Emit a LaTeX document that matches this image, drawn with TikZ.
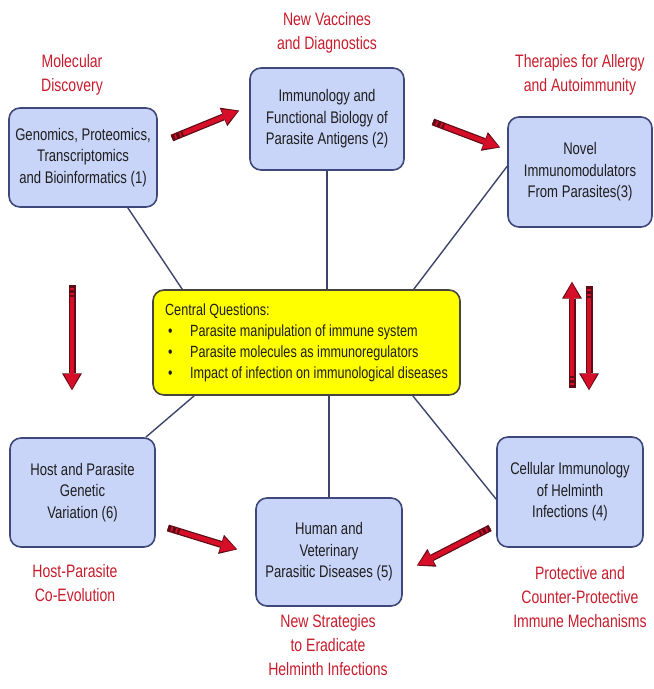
\documentclass[tikz,border=0pt]{standalone}
\usepackage{fontspec}
\usetikzlibrary{arrows.meta, positioning}
\newfontfamily\diagfont[FakeStretch=0.78]{Liberation Sans}

\definecolor{boxfill}{RGB}{200,212,248}
\definecolor{boxline}{RGB}{62,72,122}
\definecolor{qfill}{RGB}{255,255,0}
\definecolor{qline}{RGB}{70,70,60}
\definecolor{linkline}{RGB}{60,68,108}
\definecolor{captionred}{RGB}{200,28,44}
\definecolor{arrowred}{RGB}{215,14,40}
\definecolor{arrowdark}{RGB}{95,12,22}
\definecolor{boxtext}{RGB}{30,30,30}

\tikzset{
  topic/.style={draw=boxline, fill=boxfill, line width=1.6pt, rounded corners=11pt,
    align=center, text=boxtext, font=\diagfont\fontsize{16.8}{21.5}\selectfont, inner sep=2pt},
  question/.style={topic, draw=qline, fill=qfill, align=left,
    font=\diagfont\fontsize{16.2}{21}\selectfont},
  caption/.style={align=center, text=captionred, font=\diagfont\fontsize{18}{24}\selectfont},
  link/.style={draw=linkline, line width=1.4pt},
  redarrow/.style={draw=arrowred, line width=4.5pt,
    -{Triangle[length=15pt,width=16pt,line width=0pt]},
    preaction={draw=arrowdark, line width=7pt,
      -{Triangle[length=17pt,width=20pt,line width=0pt]}, shorten >=-1.3pt},
    postaction={draw=arrowdark, line width=6pt, -,
      dash pattern=on 3pt off 2pt on 3pt off 2pt on 2pt off 1000pt}}
}

\begin{document}
\begin{tikzpicture}[x=1pt, y=-1pt]
    \useasboundingbox (0,0) rectangle (654,689);

    % research areas
    \node[topic, minimum width=148pt, minimum height=99pt] (genomics) at (83,157.5)
        {Genomics, Proteomics,\\Transcriptomics\\and Bioinformatics (1)};
    \node[topic, minimum width=154pt, minimum height=102pt] (immunology) at (327,119)
        {Immunology and\\Functional Biology of\\Parasite Antigens (2)};
    \node[topic, minimum width=144pt, minimum height=110pt] (novel) at (580,172)
        {Novel\\Immunomodulators\\From Parasites(3)};
    \node[topic, minimum width=146pt, minimum height=110pt] (cellular) at (570,492)
        {Cellular Immunology\\of Helminth\\Infections (4)};
    \node[topic, minimum width=146pt, minimum height=108pt] (diseases) at (329,552)
        {Human and\\Veterinary\\Parasitic Diseases (5)};
    \node[topic, minimum width=145pt, minimum height=109pt] (hostvar) at (82.5,492.5)
        {Host and Parasite\\Genetic\\Variation (6)};

    % central questions
    \node[question, minimum width=307pt, minimum height=105pt] (central) at (306.5,342.5)
        {Central Questions:\\
         \hspace*{3pt}\makebox[22pt][l]{•}Parasite manipulation of immune system\\
         \hspace*{3pt}\makebox[22pt][l]{•}Parasite molecules as immunoregulators\\
         \hspace*{3pt}\makebox[22pt][l]{•}Impact of infection on immunological diseases};

    % red captions
    \node[caption] (molecular) at (72,75) {Molecular\\Discovery};
    \node[caption] (vaccines) at (327,32.5) {New Vaccines\\and Diagnostics};
    \node[caption] (therapies) at (580,75) {Therapies for Allergy\\and Autoimmunity};
    \node[caption] (protective) at (580,597) {Protective and\\Counter-Protective\\Immune Mechanisms};
    \node[caption] (strategies) at (328,645) {New Strategies\\to Eradicate\\Helminth Infections};
    \node[caption] (coevol) at (75,583) {Host-Parasite\\Co-Evolution};

    % links to the centre
    \draw[link] ([xshift=-30pt]genomics.south east) -- ([xshift=30pt]central.north west);
    \draw[link] (immunology.south) -- (immunology.south |- central.north);
    \draw[link] ([xshift=-47pt]central.north east) -- ([yshift=-50pt]novel.north west);
    \draw[link] ([xshift=42pt]central.south west) -- ([xshift=-10pt]hostvar.north east);
    \draw[link] (central.south -| diseases.north) -- (diseases.north);
    \draw[link] ([xshift=-48pt]central.south east) -- ([yshift=-63pt]cellular.north west);

    % red arrows
    \coordinate (a1s) at (172,138);  \coordinate (a1e) at (238,111);
    \coordinate (a2s) at (433,122);  \coordinate (a2e) at (499,147);
    \coordinate (a3s) at (72,285);   \coordinate (a3e) at (72,389);
    \coordinate (a4s) at (572,388);  \coordinate (a4e) at (572,283);
    \coordinate (a5s) at (589,286);  \coordinate (a5e) at (589,389);
    \coordinate (a6s) at (168,528);  \coordinate (a6e) at (236,549);
    \coordinate (a7s) at (490,528);  \coordinate (a7e) at (418,565);

    \draw[redarrow] (a1s) -- (a1e);
    \draw[redarrow] (a2s) -- (a2e);
    \draw[redarrow] (a3s) -- (a3e);
    \draw[redarrow] (a4s) -- (a4e);
    \draw[redarrow] (a5s) -- (a5e);
    \draw[redarrow] (a6s) -- (a6e);
    \draw[redarrow] (a7s) -- (a7e);
\end{tikzpicture}
\end{document}
